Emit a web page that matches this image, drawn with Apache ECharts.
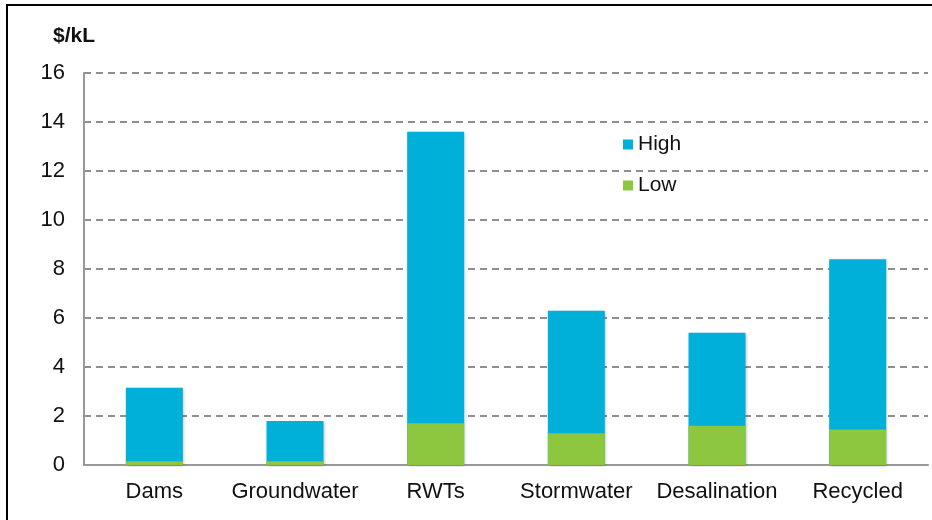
<!DOCTYPE html>
<html>
<head>
<meta charset="utf-8">
<script src="https://cdn.jsdelivr.net/npm/echarts@6/dist/echarts.min.js"></script>
<style>
  html, body { margin: 0; padding: 0; background: #fff; }
  #chart { width: 932px; height: 520px; }
</style>
</head>
<body>
<div id="chart"></div>
<script>
// Cost of water supply options, $/kL
const categories = ['Dams', 'Groundwater', 'RWTs', 'Stormwater', 'Desalination', 'Recycled'];
const highCost = [3.15, 1.8, 13.6, 6.3, 5.4, 8.4];
const lowCost = [0.15, 0.15, 1.7, 1.3, 1.6, 1.45];
const yTicks = [0, 2, 4, 6, 8, 10, 12, 14, 16];

const font = '"Liberation Sans", Arial, Helvetica, sans-serif';
const shadow = { shadowColor: 'rgba(0,0,0,0.25)', shadowBlur: 3, shadowOffsetX: 1, shadowOffsetY: 1 };

const chart = echarts.init(document.getElementById('chart'), null, { renderer: 'canvas' });
chart.setOption({
  animation: false,
  backgroundColor: '#fff',
  graphic: [
    {
      type: 'rect',
      shape: { x: 7, y: 5, width: 960, height: 560 },
      style: { fill: 'none', stroke: '#000', lineWidth: 2 },
      z: 100
    },
    {
      type: 'text',
      left: 53, top: 26,
      style: { text: '$/kL', font: 'bold 21px ' + font, fill: '#111' }
    }
  ],
  legend: {
    orient: 'vertical',
    left: 618, top: 129,
    itemWidth: 10, itemHeight: 10,
    itemGap: 20,
    icon: 'rect',
    textStyle: { fontFamily: font, fontSize: 21, lineHeight: 20, color: '#111' },
    data: ['High', 'Low']
  },
  grid: { left: 84, right: 4, top: 73, bottom: 55 },
  xAxis: {
    type: 'category',
    data: categories,
    axisLine: { lineStyle: { color: '#999', width: 2 } },
    axisTick: { show: false },
    axisLabel: { fontFamily: font, fontSize: 22, color: '#111', margin: 16, interval: 0 }
  },
  yAxis: {
    type: 'value',
    min: yTicks[0],
    max: yTicks[yTicks.length - 1],
    interval: 2,
    axisLine: { show: true, lineStyle: { color: '#999', width: 2 } },
    axisTick: { show: false },
    axisLabel: { fontFamily: font, fontSize: 22, color: '#111', margin: 19 },
    splitLine: { lineStyle: { color: '#8f8f8f', type: [7, 5], width: 2 } }
  },
  series: [
    {
      name: 'High',
      type: 'bar',
      data: highCost,
      barWidth: 57,
      barGap: '-100%',
      itemStyle: Object.assign({ color: '#00B0D8' }, shadow)
    },
    {
      name: 'Low',
      type: 'bar',
      data: lowCost,
      barWidth: 57,
      itemStyle: { color: '#8DC63F' }
    }
  ]
});
</script>
</body>
</html>
